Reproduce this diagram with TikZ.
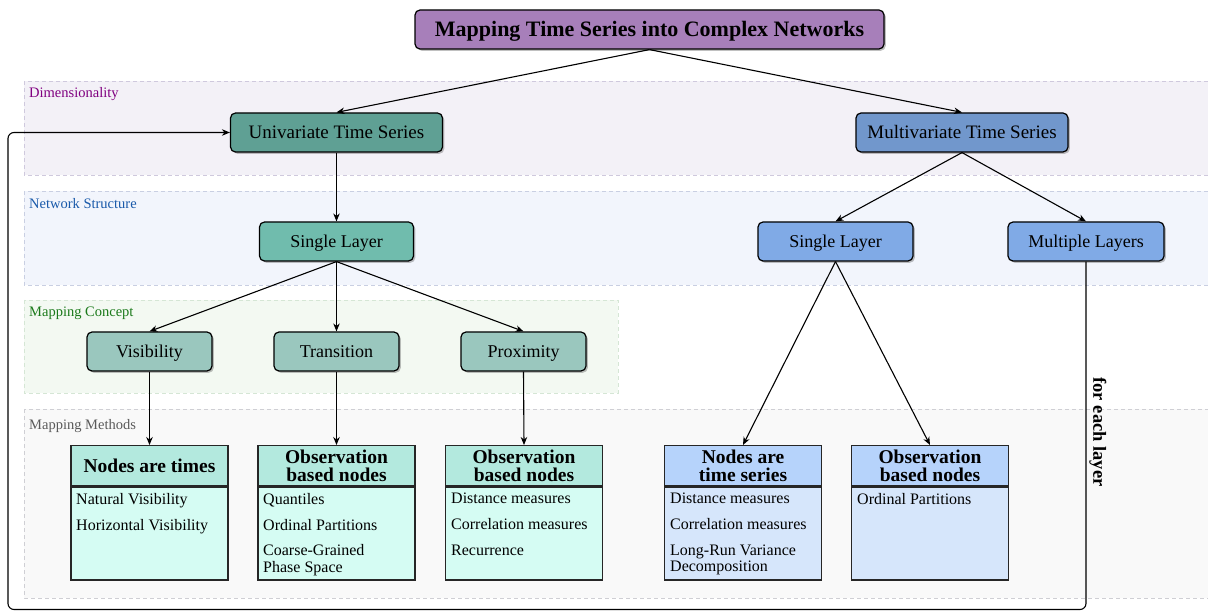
\documentclass[tikz,border=0pt]{standalone}
\usepackage{fontspec}
\setmainfont{Liberation Serif}
\usetikzlibrary{arrows.meta,shadows}
\definecolor{titlefill}{HTML}{A77FBA}
\definecolor{unifill}{HTML}{5FA094}
\definecolor{multifill}{HTML}{7197CC}
\definecolor{slgreen}{HTML}{70BCAD}
\definecolor{slblue}{HTML}{80AAE6}
\definecolor{conceptfill}{HTML}{9AC7BE}
\definecolor{headteal}{HTML}{B3E9DE}
\definecolor{bodyteal}{HTML}{D5FCF3}
\definecolor{headblue}{HTML}{B6D3FB}
\definecolor{bodyblue}{HTML}{D6E6FB}
\definecolor{banddim}{HTML}{F3F1F7}
\definecolor{bandnet}{HTML}{F2F5FC}
\definecolor{bandcon}{HTML}{F3F9F2}
\definecolor{bandmet}{HTML}{F9F9F9}
\definecolor{borddim}{HTML}{CFC9DD}
\definecolor{bordnet}{HTML}{C9CFE2}
\definecolor{bordcon}{HTML}{D5E6D5}
\definecolor{bordmet}{HTML}{CFCFD4}
\definecolor{labdim}{HTML}{800080}
\definecolor{labnet}{HTML}{1A5AAA}
\definecolor{labcon}{HTML}{1B7A1B}
\definecolor{labmet}{HTML}{5A5A5A}
\tikzset{
  band/.style={dashed, dash pattern=on 4pt off 3pt, line width=0.9pt},
  bandlabel/.style={anchor=west, inner sep=0pt, font=\fontsize{14.5}{16}\selectfont},
  box/.style={draw=black, line width=1.2pt, rounded corners=5pt, inner sep=0pt,
    minimum height=39pt, text height=12pt, text depth=0pt, font=\fontsize{18}{20}\selectfont,
    drop shadow={shadow xshift=1.8pt, shadow yshift=-1.8pt, opacity=0.35, fill=black!70}},
  bigbox/.style={box, font=\fontsize{19}{21}\selectfont, text height=12.6pt},
  head/.style={draw=black!85, line width=1.4pt, inner sep=0pt, minimum width=157pt,
    minimum height=40pt, align=center, anchor=north,
    font=\fontsize{19.5}{18}\bfseries\selectfont},
  body/.style={draw=black!85, line width=1.4pt, inner sep=0pt, minimum width=157pt,
    minimum height=93pt, anchor=north},
  items/.style={anchor=north west, inner sep=0pt, align=left,
    font=\fontsize{16}{16.7}\selectfont},
  arr/.style={-{Stealth[length=8pt,width=6.5pt]}, line width=1.1pt},
}
\begin{document}
\begin{tikzpicture}[x=1pt,y=-1pt]
\useasboundingbox (0,0) rectangle (1208,612);
\fill[white] (0,0) rectangle (1208,612);
\clip (0,0) rectangle (1208,612);
% bands
\filldraw[band, fill=banddim, draw=borddim] (24,81) rectangle (1215,175);
\filldraw[band, fill=bandnet, draw=bordnet] (24,191) rectangle (1215,285);
\filldraw[band, fill=bandcon, draw=bordcon] (24,300) rectangle (618,393);
\filldraw[band, fill=bandmet, draw=bordmet] (24,409) rectangle (1215,598);
\node[bandlabel, text=labdim] (ldim) at (29,94) {Dimensionality};
\node[bandlabel, text=labnet] (lnet) at (29,204) {Network Structure};
\node[bandlabel, text=labcon] (lcon) at (29,313) {Mapping Concept};
\node[bandlabel, text=labmet] (lmet) at (29,426) {Mapping Methods};
% nodes
\node[box, fill=titlefill, minimum width=469pt, text height=14.6pt, font=\fontsize{22}{24}\bfseries\selectfont] (title) at (649.5,29.5) {Mapping Time Series into Complex Networks};
\node[bigbox, fill=unifill, minimum width=212pt] (uv) at (336.5,132.5) {Univariate Time Series};
\node[bigbox, fill=multifill, minimum width=212pt] (mv) at (962,132.5) {Multivariate Time Series};
\node[box, fill=slgreen, minimum width=154pt] (sl) at (336.5,241.5) {Single Layer};
\node[box, fill=slblue, minimum width=155pt] (sr) at (835.5,241.5) {Single Layer};
\node[box, fill=slblue, minimum width=156pt] (ml) at (1086,241.5) {Multiple Layers};
\node[box, fill=conceptfill, minimum width=125pt] (vis) at (149.5,351.5) {Visibility};
\node[box, fill=conceptfill, minimum width=125pt] (tra) at (336.5,351.5) {Transition};
\node[box, fill=conceptfill, minimum width=125pt] (pro) at (523.5,351.5) {Proximity};
% method boxes
\node[head, fill=headteal] (h1) at (149.5,445) {Nodes are times};
\node[body, fill=bodyteal] (b1) at (h1.south) {};
\node[items] (i1) at (76,493) {Natural Visibility\\[9pt]Horizontal Visibility};
\node[head, fill=headteal] (h2) at (336.5,445) {Observation\\based nodes};
\node[body, fill=bodyteal] (b2) at (h2.south) {};
\node[items] (i2) at (263,493) {Quantiles\\[9pt]Ordinal Partitions\\[9pt]Coarse-Grained\\Phase Space};
\node[head, fill=headteal] (h3) at (524,445) {Observation\\based nodes};
\node[body, fill=bodyteal] (b3) at (h3.south) {};
\node[items] (i3) at (451,493) {Distance measures\\[9pt]Correlation measures\\[9pt]Recurrence};
\node[head, fill=headblue] (h4) at (743,445) {Nodes are\\time series};
\node[body, fill=bodyblue] (b4) at (h4.south) {};
\node[items] (i4) at (670,493) {Distance measures\\[9pt]Correlation measures\\[9pt]Long-Run Variance\\Decomposition};
\node[head, fill=headblue] (h5) at (930,445) {Observation\\based nodes};
\node[body, fill=bodyblue] (b5) at (h5.south) {};
\node[items] (i5) at (857,493) {Ordinal Partitions};
% connectors
\draw[arr] (title.south) -- (uv.north);
\draw[arr] (title.south) -- (mv.north);
\draw[arr] (uv.south) -- (sl.north);
\draw[arr] (mv.south) -- (sr.north);
\draw[arr] (mv.south) -- (ml.north);
\draw[arr] (sl.south) -- (vis.north);
\draw[arr] (sl.south) -- (tra.north);
\draw[arr] (sl.south) -- (pro.north);
\draw[arr] (vis.south) -- (h1.north);
\draw[arr] (tra.south) -- (h2.north);
\draw[arr] (pro.south) -- (h3.north);
\draw[arr] (sr.south) -- (h4.north);
\draw[arr] (sr.south) -- (h5.north);
\coordinate (loopbl) at (8,609.5);
\draw[arr, rounded corners=6pt] (ml.south) |- (loopbl) |- (uv.west);
\node[rotate=-90, inner sep=0pt, font=\fontsize{18.5}{20}\bfseries\selectfont] (fel) at (1098,432) {for each layer};
\end{tikzpicture}
\end{document}
